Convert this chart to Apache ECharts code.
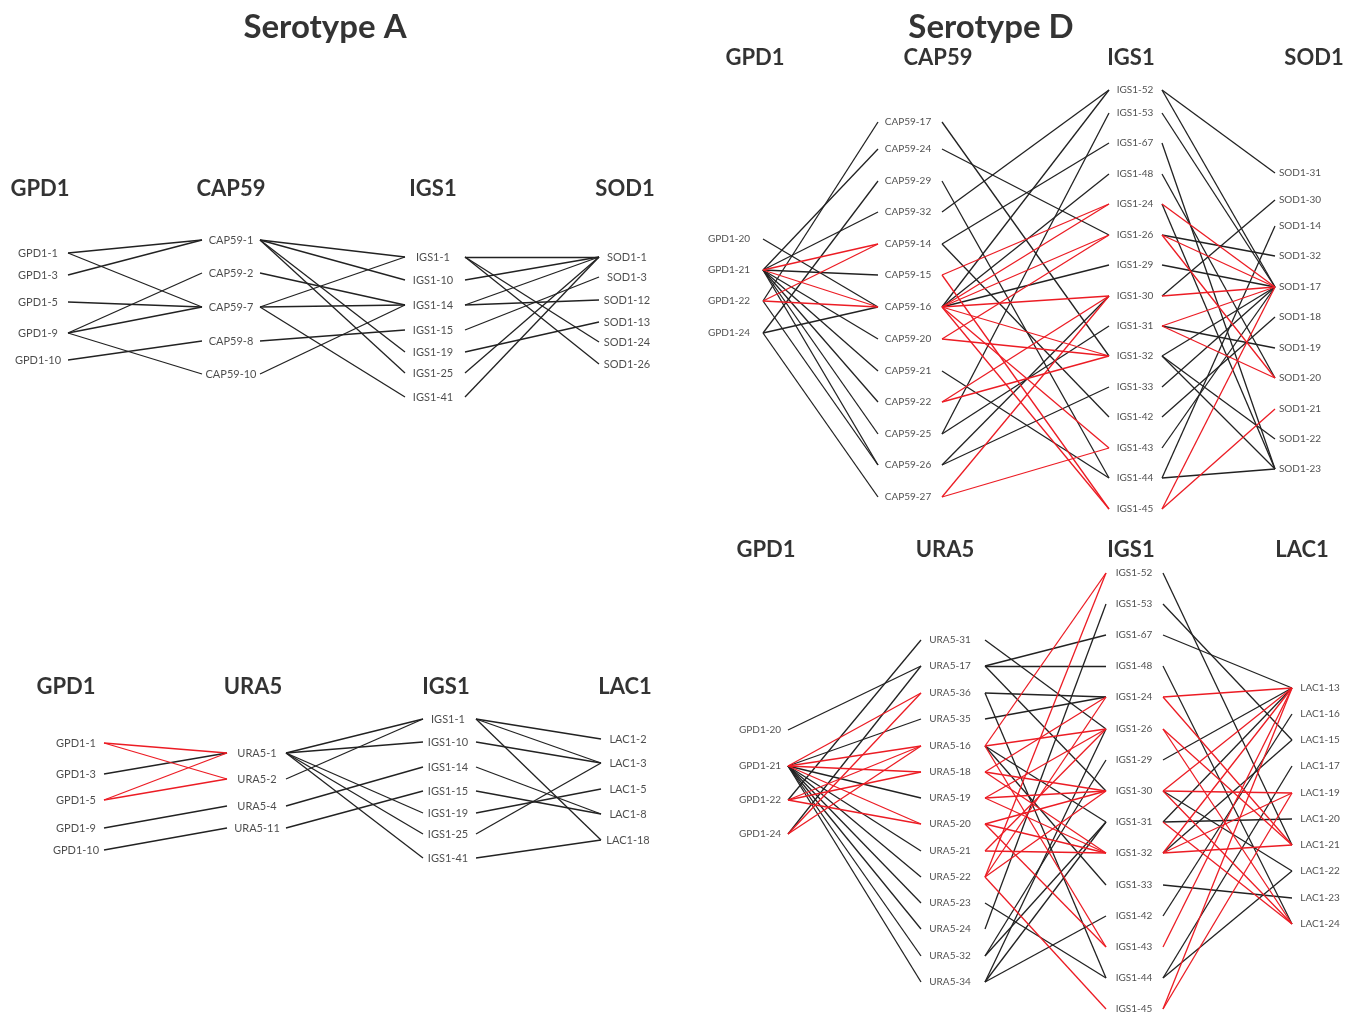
<!DOCTYPE html>
<html><head><meta charset="utf-8">
<script src="https://cdn.jsdelivr.net/npm/echarts@6/dist/echarts.min.js"></script>
<style>html,body{margin:0;padding:0;background:#fff}#c{width:1356px;height:1014px}</style>
</head><body><div id="c"></div>
<script>
const K = 'k', R = 'r';

// ===== Serotype A : GPD1 / CAP59 / IGS1 / SOD1 =====
const aTopHeads = ['GPD1', 'CAP59', 'IGS1', 'SOD1'];
const aTopGPD1 = ['GPD1-1','GPD1-3','GPD1-5','GPD1-9','GPD1-10'];
const aTopGPD1Y = [253, 275, 302, 333, 360];
const aTopCAP59 = ['CAP59-1','CAP59-2','CAP59-7','CAP59-8','CAP59-10'];
const aTopCAP59Y = [240, 273, 307, 341, 374];
const aTopIGS1 = ['IGS1-1','IGS1-10','IGS1-14','IGS1-15','IGS1-19','IGS1-25','IGS1-41'];
const aTopIGS1Y = [257, 280, 305, 330, 352, 373, 397];
const aTopSOD1 = ['SOD1-1','SOD1-3','SOD1-12','SOD1-13','SOD1-24','SOD1-26'];
const aTopSOD1Y = [257, 277, 300, 322, 342, 364];
const aTopLinks12 = [['GPD1-1','CAP59-1',K],['GPD1-1','CAP59-7',K],['GPD1-3','CAP59-1',K],['GPD1-5','CAP59-7',K],
  ['GPD1-9','CAP59-2',K],['GPD1-9','CAP59-7',K],['GPD1-9','CAP59-10',K],['GPD1-10','CAP59-8',K]];
const aTopLinks23 = [['CAP59-1','IGS1-1',K],['CAP59-1','IGS1-10',K],['CAP59-1','IGS1-19',K],['CAP59-1','IGS1-25',K],
  ['CAP59-2','IGS1-14',K],['CAP59-7','IGS1-1',K],['CAP59-7','IGS1-14',K],['CAP59-7','IGS1-41',K],
  ['CAP59-8','IGS1-15',K],['CAP59-10','IGS1-14',K]];
const aTopLinks34 = [['IGS1-1','SOD1-1',K],['IGS1-1','SOD1-24',K],['IGS1-1','SOD1-26',K],['IGS1-10','SOD1-1',K],
  ['IGS1-14','SOD1-1',K],['IGS1-14','SOD1-12',K],['IGS1-15','SOD1-3',K],['IGS1-19','SOD1-13',K],
  ['IGS1-25','SOD1-1',K],['IGS1-41','SOD1-1',K]];

// ===== Serotype A : GPD1 / URA5 / IGS1 / LAC1 =====
const aBotHeads = ['GPD1', 'URA5', 'IGS1', 'LAC1'];
const aBotGPD1 = ['GPD1-1','GPD1-3','GPD1-5','GPD1-9','GPD1-10'];
const aBotGPD1Y = [743, 774, 800, 828, 850];
const aBotURA5 = ['URA5-1','URA5-2','URA5-4','URA5-11'];
const aBotURA5Y = [753, 779, 806, 828];
const aBotIGS1 = ['IGS1-1','IGS1-10','IGS1-14','IGS1-15','IGS1-19','IGS1-25','IGS1-41'];
const aBotIGS1Y = [719, 742, 767, 791, 813, 834, 858];
const aBotLAC1 = ['LAC1-2','LAC1-3','LAC1-5','LAC1-8','LAC1-18'];
const aBotLAC1Y = [739, 763, 789, 814, 840];
const aBotLinks12 = [['GPD1-1','URA5-1',R],['GPD1-1','URA5-2',R],['GPD1-3','URA5-1',K],['GPD1-5','URA5-1',R],
  ['GPD1-5','URA5-2',R],['GPD1-9','URA5-4',K],['GPD1-10','URA5-11',K]];
const aBotLinks23 = [['URA5-1','IGS1-1',K],['URA5-1','IGS1-10',K],['URA5-1','IGS1-19',K],['URA5-1','IGS1-25',K],
  ['URA5-1','IGS1-41',K],['URA5-2','IGS1-1',K],['URA5-4','IGS1-14',K],['URA5-11','IGS1-15',K]];
const aBotLinks34 = [['IGS1-1','LAC1-2',K],['IGS1-1','LAC1-3',K],['IGS1-1','LAC1-18',K],['IGS1-10','LAC1-3',K],
  ['IGS1-14','LAC1-8',K],['IGS1-15','LAC1-8',K],['IGS1-19','LAC1-5',K],['IGS1-25','LAC1-3',K],['IGS1-41','LAC1-18',K]];

// ===== Serotype D : GPD1 / CAP59 / IGS1 / SOD1 =====
const dTopHeads = ['GPD1', 'CAP59', 'IGS1', 'SOD1'];
const dTopGPD1 = ['GPD1-20','GPD1-21','GPD1-22','GPD1-24'];
const dTopGPD1Y = [239, 270, 301, 333];
const dTopCAP59 = ['CAP59-17','CAP59-24','CAP59-29','CAP59-32','CAP59-14','CAP59-15','CAP59-16','CAP59-20',
  'CAP59-21','CAP59-22','CAP59-25','CAP59-26','CAP59-27'];
const dTopCAP59Y = [122, 149, 181, 212, 244, 275, 307, 339, 371, 402, 434, 465, 497];
const dTopIGS1 = ['IGS1-52','IGS1-53','IGS1-67','IGS1-48','IGS1-24','IGS1-26','IGS1-29','IGS1-30','IGS1-31',
  'IGS1-32','IGS1-33','IGS1-42','IGS1-43','IGS1-44','IGS1-45'];
const dTopIGS1Y = [90, 113, 143, 174, 204, 235, 265, 296, 326, 356, 387, 417, 448, 478, 509];
const dTopSOD1 = ['SOD1-31','SOD1-30','SOD1-14','SOD1-32','SOD1-17','SOD1-18','SOD1-19','SOD1-20','SOD1-21',
  'SOD1-22','SOD1-23'];
const dTopSOD1Y = [173, 200, 226, 256, 287, 317, 348, 378, 409, 439, 469];
const dTopLinks12 = [['GPD1-20','CAP59-16',K],
  ['GPD1-21','CAP59-24',K],['GPD1-21','CAP59-32',K],['GPD1-21','CAP59-14',R],['GPD1-21','CAP59-15',K],
  ['GPD1-21','CAP59-16',R],['GPD1-21','CAP59-20',K],['GPD1-21','CAP59-21',K],['GPD1-21','CAP59-22',K],
  ['GPD1-21','CAP59-25',K],['GPD1-21','CAP59-26',K],
  ['GPD1-22','CAP59-17',K],['GPD1-22','CAP59-14',R],['GPD1-22','CAP59-16',R],['GPD1-22','CAP59-26',K],
  ['GPD1-24','CAP59-29',K],['GPD1-24','CAP59-16',K],['GPD1-24','CAP59-27',K]];
const dTopLinks23 = [['CAP59-17','IGS1-32',K],['CAP59-24','IGS1-26',K],['CAP59-29','IGS1-44',K],
  ['CAP59-32','IGS1-52',K],['CAP59-14','IGS1-67',K],['CAP59-14','IGS1-42',K],
  ['CAP59-15','IGS1-24',R],['CAP59-15','IGS1-45',R],
  ['CAP59-16','IGS1-52',K],['CAP59-16','IGS1-48',K],['CAP59-16','IGS1-29',K],['CAP59-16','IGS1-24',R],
  ['CAP59-16','IGS1-26',R],['CAP59-16','IGS1-30',R],['CAP59-16','IGS1-32',R],['CAP59-16','IGS1-43',R],
  ['CAP59-16','IGS1-45',R],
  ['CAP59-20','IGS1-26',R],['CAP59-20','IGS1-32',R],['CAP59-21','IGS1-44',K],
  ['CAP59-22','IGS1-30',R],['CAP59-22','IGS1-32',R],['CAP59-25','IGS1-53',K],['CAP59-25','IGS1-31',K],
  ['CAP59-26','IGS1-30',K],['CAP59-26','IGS1-33',K],['CAP59-27','IGS1-30',R],['CAP59-27','IGS1-43',R]];
const dTopLinks34 = [['IGS1-52','SOD1-31',K],['IGS1-52','SOD1-17',K],['IGS1-53','SOD1-17',K],
  ['IGS1-67','SOD1-23',K],['IGS1-48','SOD1-20',K],['IGS1-24','SOD1-17',R],['IGS1-24','SOD1-23',K],
  ['IGS1-26','SOD1-32',K],['IGS1-26','SOD1-17',R],['IGS1-26','SOD1-20',R],['IGS1-29','SOD1-17',K],
  ['IGS1-30','SOD1-30',K],['IGS1-30','SOD1-17',R],['IGS1-31','SOD1-17',R],['IGS1-31','SOD1-19',K],
  ['IGS1-31','SOD1-20',R],['IGS1-32','SOD1-17',K],['IGS1-32','SOD1-22',K],['IGS1-32','SOD1-23',K],
  ['IGS1-33','SOD1-17',K],['IGS1-42','SOD1-18',K],['IGS1-43','SOD1-17',K],['IGS1-44','SOD1-14',K],
  ['IGS1-44','SOD1-23',K],['IGS1-45','SOD1-17',R],['IGS1-45','SOD1-21',R]];

// ===== Serotype D : GPD1 / URA5 / IGS1 / LAC1 =====
const dBotHeads = ['GPD1', 'URA5', 'IGS1', 'LAC1'];
const dBotGPD1 = ['GPD1-20','GPD1-21','GPD1-22','GPD1-24'];
const dBotGPD1Y = [730, 766, 800, 834];
const dBotURA5 = ['URA5-31','URA5-17','URA5-36','URA5-35','URA5-16','URA5-18','URA5-19','URA5-20','URA5-21',
  'URA5-22','URA5-23','URA5-24','URA5-32','URA5-34'];
const dBotURA5Y = [640, 666, 693, 719, 746, 772, 798, 824, 851, 877, 903, 929, 956, 982];
const dBotIGS1 = ['IGS1-52','IGS1-53','IGS1-67','IGS1-48','IGS1-24','IGS1-26','IGS1-29','IGS1-30','IGS1-31',
  'IGS1-32','IGS1-33','IGS1-42','IGS1-43','IGS1-44','IGS1-45'];
const dBotIGS1Y = [573, 604, 635, 666, 697, 729, 760, 791, 822, 853, 885, 916, 947, 978, 1009];
const dBotLAC1 = ['LAC1-13','LAC1-16','LAC1-15','LAC1-17','LAC1-19','LAC1-20','LAC1-21','LAC1-22','LAC1-23','LAC1-24'];
const dBotLAC1Y = [688, 714, 740, 766, 793, 819, 845, 871, 898, 924];
const dBotLinks12 = [['GPD1-20','URA5-17',K],
  ['GPD1-21','URA5-36',R],['GPD1-21','URA5-35',K],['GPD1-21','URA5-16',R],['GPD1-21','URA5-18',R],
  ['GPD1-21','URA5-19',K],['GPD1-21','URA5-20',R],['GPD1-21','URA5-21',K],['GPD1-21','URA5-22',K],
  ['GPD1-21','URA5-23',K],['GPD1-21','URA5-24',K],['GPD1-21','URA5-32',K],['GPD1-21','URA5-34',K],
  ['GPD1-22','URA5-31',K],['GPD1-22','URA5-16',R],['GPD1-22','URA5-18',R],['GPD1-22','URA5-20',R],
  ['GPD1-24','URA5-17',K],['GPD1-24','URA5-36',R],['GPD1-24','URA5-16',R]];
const dBotLinks23 = [['URA5-31','IGS1-26',K],['URA5-17','IGS1-67',K],['URA5-17','IGS1-48',K],['URA5-17','IGS1-30',K],
  ['URA5-36','IGS1-24',K],['URA5-36','IGS1-44',K],['URA5-35','IGS1-24',K],
  ['URA5-16','IGS1-52',R],['URA5-16','IGS1-26',R],['URA5-16','IGS1-31',K],['URA5-16','IGS1-33',K],['URA5-16','IGS1-43',R],
  ['URA5-18','IGS1-24',R],['URA5-18','IGS1-30',R],['URA5-18','IGS1-32',R],
  ['URA5-19','IGS1-26',R],['URA5-19','IGS1-30',R],['URA5-19','IGS1-32',R],
  ['URA5-20','IGS1-30',R],['URA5-20','IGS1-32',R],['URA5-20','IGS1-43',R],
  ['URA5-21','IGS1-26',R],['URA5-21','IGS1-32',R],
  ['URA5-22','IGS1-52',R],['URA5-22','IGS1-24',R],['URA5-22','IGS1-30',R],['URA5-22','IGS1-45',R],
  ['URA5-23','IGS1-44',K],['URA5-24','IGS1-53',K],['URA5-32','IGS1-29',K],['URA5-32','IGS1-31',K],
  ['URA5-34','IGS1-26',K],['URA5-34','IGS1-31',K],['URA5-34','IGS1-42',K]];
const dBotLinks34 = [['IGS1-52','LAC1-21',K],['IGS1-53','LAC1-15',K],['IGS1-67','LAC1-13',K],['IGS1-48','LAC1-24',K],
  ['IGS1-24','LAC1-13',R],['IGS1-24','LAC1-21',R],['IGS1-26','LAC1-21',R],['IGS1-26','LAC1-24',R],
  ['IGS1-29','LAC1-13',K],['IGS1-30','LAC1-13',R],['IGS1-30','LAC1-19',R],['IGS1-30','LAC1-22',K],['IGS1-30','LAC1-24',R],
  ['IGS1-31','LAC1-13',K],['IGS1-31','LAC1-20',K],['IGS1-31','LAC1-24',R],
  ['IGS1-32','LAC1-15',K],['IGS1-32','LAC1-13',R],['IGS1-32','LAC1-19',R],['IGS1-32','LAC1-21',R],
  ['IGS1-33','LAC1-23',K],['IGS1-42','LAC1-16',K],['IGS1-43','LAC1-13',R],
  ['IGS1-44','LAC1-17',K],['IGS1-44','LAC1-22',K],['IGS1-45','LAC1-13',R],['IGS1-45','LAC1-19',R]];

// ===== layout (column anchors) =====
const panels = [
  { heads: aTopHeads, names: [aTopGPD1, aTopCAP59, aTopIGS1, aTopSOD1], ys: [aTopGPD1Y, aTopCAP59Y, aTopIGS1Y, aTopSOD1Y],
    links: [aTopLinks12, aTopLinks23, aTopLinks34],
    L: { cx: [38, 231, 433, 627], inX: [0, 202, 405, 599], outX: [68, 260, 465, 0], headX: [40, 231, 433, 625], headY: 189, fs: 11 } },
  { heads: aBotHeads, names: [aBotGPD1, aBotURA5, aBotIGS1, aBotLAC1], ys: [aBotGPD1Y, aBotURA5Y, aBotIGS1Y, aBotLAC1Y],
    links: [aBotLinks12, aBotLinks23, aBotLinks34],
    L: { cx: [76, 257, 448, 628], inX: [0, 227, 423, 601], outX: [104, 286, 476, 0], headX: [66, 253, 446, 625], headY: 687, fs: 11 } },
  { heads: dTopHeads, names: [dTopGPD1, dTopCAP59, dTopIGS1, dTopSOD1], ys: [dTopGPD1Y, dTopCAP59Y, dTopIGS1Y, dTopSOD1Y],
    links: [dTopLinks12, dTopLinks23, dTopLinks34],
    L: { cx: [729, 908, 1135, 1300], inX: [0, 878, 1109, 1275], outX: [763, 942, 1162, 0], headX: [755, 938, 1131, 1314], headY: 58, fs: 10 } },
  { heads: dBotHeads, names: [dBotGPD1, dBotURA5, dBotIGS1, dBotLAC1], ys: [dBotGPD1Y, dBotURA5Y, dBotIGS1Y, dBotLAC1Y],
    links: [dBotLinks12, dBotLinks23, dBotLinks34],
    L: { cx: [760, 950, 1134, 1320], inX: [0, 921, 1106, 1292], outX: [788, 985, 1163, 0], headX: [766, 945, 1131, 1302], headY: 550, fs: 10 } }
];
const titles = [['Serotype A', 325, 27], ['Serotype D', 991, 27]];

const BLACK = '#222222', RED = '#ec1c24';
const blackLines = [], redLines = [], nodeLabels = [], headLabels = [];
panels.forEach(p => {
  const pos = {};
  p.names.forEach((col, ci) => col.forEach((n, i) => {
    pos[n] = { ci, y: p.ys[ci][i] };
    nodeLabels.push({ name: n, value: [p.L.cx[ci], p.ys[ci][i]], label: { fontSize: p.L.fs } });
  }));
  p.links.forEach(stage => stage.forEach(([a, b, c]) => {
    const A = pos[a], B = pos[b];
    const item = { coords: [[p.L.outX[A.ci], A.y], [p.L.inX[B.ci], B.y]] };
    (c === R ? redLines : blackLines).push(item);
  }));
  p.heads.forEach((h, i) => headLabels.push({ name: h, value: [p.L.headX[i], p.L.headY] }));
});
const titleLabels = titles.map(t => ({ name: t[0], value: [t[1], t[2]] }));

const FONT = 'Lato, "Open Sans", sans-serif';
const textSeries = (data, size, weight, color) => ({
  type: 'scatter', data, symbol: 'circle', symbolSize: 1, silent: true, z: 5,
  itemStyle: { color: 'rgba(0,0,0,0)' },
  label: { show: true, position: 'inside', formatter: q => q.name, fontSize: size, fontWeight: weight,
           color, fontFamily: FONT }
});

const chart = echarts.init(document.getElementById('c'));
chart.setOption({
  animation: false,
  backgroundColor: '#ffffff',
  grid: { left: 0, top: 0, width: 1356, height: 1014 },
  xAxis: { type: 'value', min: 0, max: 1356, show: false },
  yAxis: { type: 'value', min: 0, max: 1014, inverse: true, show: false },
  series: [
    { type: 'lines', coordinateSystem: 'cartesian2d', data: blackLines, silent: true, z: 2,
      lineStyle: { color: BLACK, width: 1.3, opacity: 1 } },
    { type: 'lines', coordinateSystem: 'cartesian2d', data: redLines, silent: true, z: 3,
      lineStyle: { color: RED, width: 1.3, opacity: 1 } },
    textSeries(nodeLabels, 11, 'normal', '#1e1e1e'),
    textSeries(headLabels, 22, 'bold', '#000'),
    textSeries(titleLabels, 33, 'bold', '#000')
  ]
});
</script></body></html>
